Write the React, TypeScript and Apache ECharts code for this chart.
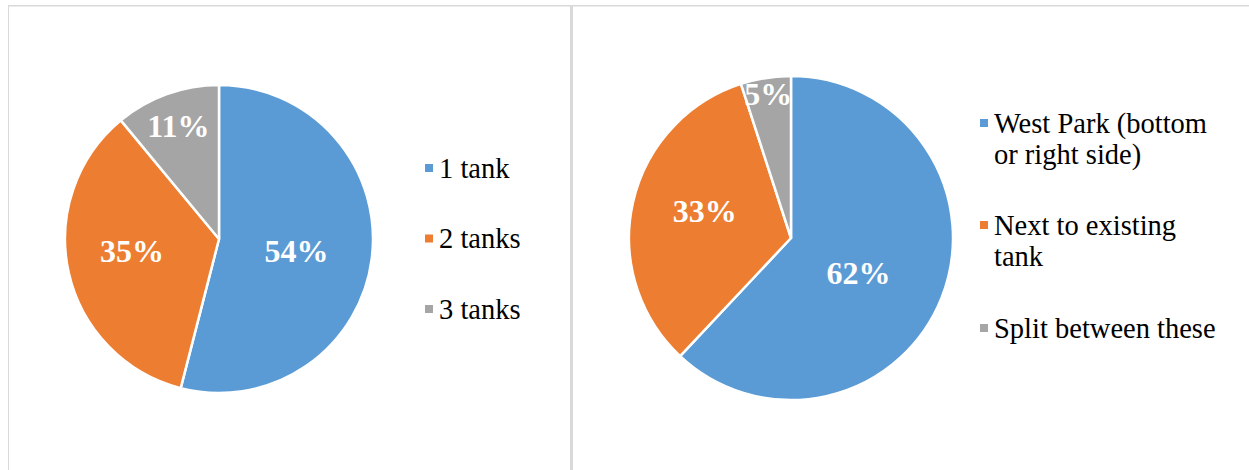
import React, { useEffect, useRef } from "react";
import * as echarts from "echarts";

const leftCategories = ["1 tank", "2 tanks", "3 tanks"];
const leftValues = [54, 35, 11];
const rightCategories = [
  "West Park (bottom or right side)",
  "Next to existing tank",
  "Split between these",
];
const rightValues = [62, 33, 5];
const rightLegendLines = [
  ["West Park (bottom", "or right side)"],
  ["Next to existing", "tank"],
  ["Split between these"],
];
const sliceColors = ["#5B9BD5", "#ED7D31", "#A5A5A5"];

const FONT = "Liberation Serif";

// layout / style configuration
const LEFT_PIE = {
  cx: 219, cy: 239, r: 154,
  labelRatio: [0.49, 0.55, 0.76],
  labelShiftDeg: [2, 5, 0],
};
const RIGHT_PIE = {
  cx: 791, cy: 238, r: 162,
  labelRatio: [0.45, 0.54, 0.88],
  labelShiftDeg: [6, 5, 0],
};
const LEFT_LEGEND = { x: 423, firstCenter: 168, step: 70.5, lh: 30 };
const RIGHT_LEGEND = { x: 978, centers: [123, 225, 328], lh: 31 };
const LEGEND_FONT = 28.5;
const LABEL_FONT = 32;

function buildPie(name: string, cats: string[], vals: number[], cfg: any) {
  const total = vals.reduce((a, b) => a + b, 0);
  let cum = 0;
  const data = cats.map((c, i) => {
    const mid = ((cum + vals[i] / 2) / total) * Math.PI * 2;
    cum += vals[i];
    const a = mid + (cfg.labelShiftDeg[i] * Math.PI) / 180;
    const want = [Math.sin(a) * cfg.labelRatio[i] * cfg.r, -Math.cos(a) * cfg.labelRatio[i] * cfg.r];
    const base = [Math.sin(mid) * 0.5 * cfg.r, -Math.cos(mid) * 0.5 * cfg.r];
    return {
      name: c,
      value: vals[i],
      itemStyle: { color: sliceColors[i] },
      label: { offset: [want[0] - base[0], want[1] - base[1]] },
    };
  });
  return {
    type: "pie",
    name,
    center: [cfg.cx, cfg.cy],
    radius: [0, cfg.r],
    startAngle: 90,
    clockwise: true,
    avoidLabelOverlap: false,
    itemStyle: { borderColor: "#ffffff", borderWidth: 2.5 },
    label: {
      show: true,
      position: "inside",
      formatter: "{c}%",
      color: "#ffffff",
      fontSize: LABEL_FONT,
      fontWeight: "bold",
      fontFamily: FONT,
    },
    labelLine: { show: false },
    emphasis: { disabled: true },
    data,
  };
}

export default function App() {
  const ref = useRef<HTMLDivElement>(null);
  useEffect(() => {
    document.body.style.margin = "0";
    const chart = echarts.init(ref.current!, null, { renderer: "svg" });
    const legendText = (lh: number) => ({
      fontFamily: FONT,
      fontSize: LEGEND_FONT,
      color: "#000000",
      lineHeight: lh,
    });
    const rightLegends = rightCategories.map((c, i) => {
      const lines = rightLegendLines[i];
      const n = lines.length;
      const lh = RIGHT_LEGEND.lh;
      // blank leading lines keep the first text line level with the icon
      const shown = [...Array(n - 1).fill("\u00a0"), ...lines];
      return {
        data: [c],
        orient: "vertical",
        left: RIGHT_LEGEND.x,
        top: RIGHT_LEGEND.centers[i] - ((2 * n - 1) * lh) / 2,
        padding: 0,
        icon: "rect",
        itemWidth: 10,
        itemHeight: 10,
        selectedMode: false,
        formatter: () => shown.join("\n"),
        textStyle: legendText(lh),
      };
    });
    chart.setOption({
      animation: false,
      backgroundColor: "#ffffff",
      textStyle: { fontFamily: FONT },
      graphic: [
        { type: "rect", shape: { x: 8, y: 5, width: 1, height: 470 }, style: { fill: "#D9D9D9" } },
        { type: "rect", shape: { x: 8, y: 5, width: 1241, height: 1.5 }, style: { fill: "#D9D9D9" } },
        { type: "rect", shape: { x: 570, y: 5, width: 3, height: 470 }, style: { fill: "#D9D9D9" } },
      ],
      legend: [
        {
          data: leftCategories,
          orient: "vertical",
          left: LEFT_LEGEND.x,
          top: LEFT_LEGEND.firstCenter - LEFT_LEGEND.lh / 2,
          padding: 0,
          icon: "rect",
          itemWidth: 10,
          itemHeight: 10,
          itemGap: LEFT_LEGEND.step - LEFT_LEGEND.lh,
          selectedMode: false,
          textStyle: legendText(LEFT_LEGEND.lh),
        },
        ...rightLegends,
      ],
      series: [
        buildPie("tanks", leftCategories, leftValues, LEFT_PIE),
        buildPie("location", rightCategories, rightValues, RIGHT_PIE),
      ],
    });
    return () => chart.dispose();
  }, []);
  return <div ref={ref} style={{ width: 1249, height: 470 }} />;
}
